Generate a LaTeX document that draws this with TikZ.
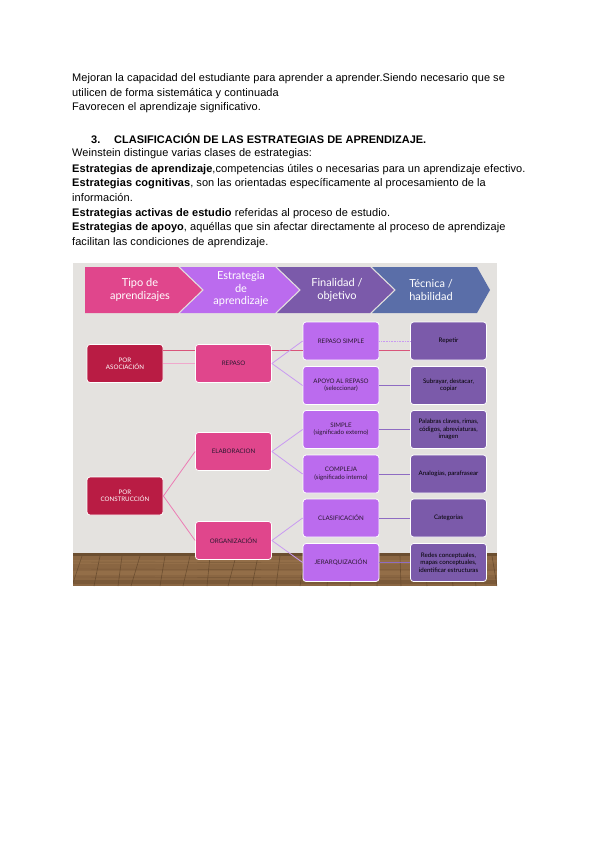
\documentclass[tikz,border=0pt]{standalone}
\usepackage{fontspec}
\setmainfont{Liberation Sans}[LetterSpace=0.6]
\newfontfamily\diafont{Lato}
\newfontfamily\headfont{Liberation Sans}
\usetikzlibrary{calc}
\definecolor{bgwall}{HTML}{E4E2DF}
\definecolor{floorc}{HTML}{8A6642}
\definecolor{floord}{HTML}{5E4328}
\definecolor{floorl}{HTML}{A47E55}
\definecolor{crimson}{HTML}{B91C44}
\definecolor{pinkc}{HTML}{E0468C}
\definecolor{lilac}{HTML}{BB6BEE}
\definecolor{violet}{HTML}{7B5AAA}
\definecolor{bluev}{HTML}{5A6EA8}
\definecolor{rosel}{HTML}{D9557A}
\definecolor{pinkl}{HTML}{F0A8CC}
\definecolor{lavl}{HTML}{C99AF2}
\definecolor{purl}{HTML}{8E6CC2}
\definecolor{pinkline}{HTML}{EC7CB4}
\definecolor{darktext}{HTML}{2A1830}
\tikzset{
  bodytext/.style={anchor=base west, inner sep=0pt, font=\fontsize{11}{12}\selectfont},
  headtext/.style={anchor=base west, inner sep=0pt, font=\headfont\bfseries\fontsize{11}{12}\selectfont},
  box/.style={draw=white, line width=0.8pt, rounded corners=3pt, minimum width=76pt, minimum height=38pt, align=center, inner sep=1pt, font=\diafont\fontsize{6.2}{7.4}\selectfont, text=darktext},
  chevtext/.style={text=white, align=center, font=\diafont\fontsize{11}{12.5}\selectfont, inner sep=0pt},
  conn/.style={line width=0.8pt},
}
\begin{document}
\begin{tikzpicture}[x=1pt,y=-1pt]
\useasboundingbox (0,0) rectangle (600,848);
\fill[white] (0,0) rectangle (600,848);
% body text
\node[bodytext] (l1) at (72,82) {Mejoran la capacidad del estudiante para aprender a aprender.Siendo necesario que se};
\node[bodytext] (l2) at (72,96.5) {utilicen de forma sistemática y continuada};
\node[bodytext] (l3) at (72,111) {Favorecen el aprendizaje significativo.};
\node[headtext] (h1) at (91,143) {3.};
\node[headtext] (h2) at (114,143) {CLASIFICACIÓN DE LAS ESTRATEGIAS DE APRENDIZAJE.};
\node[bodytext] (t1) at (72,157) {Weinstein distingue varias clases de estrategias:};
\node[bodytext] (t2) at (72,172) {\textbf{Estrategias de aprendizaje},competencias útiles o necesarias para un aprendizaje efectivo.};
\node[bodytext] (t3) at (72,186.5) {\textbf{Estrategias cognitivas}, son las orientadas específicamente al procesamiento de la};
\node[bodytext] (t4) at (72,201) {información.};
\node[bodytext] (t5) at (72,216) {\textbf{Estrategias activas de estudio} referidas al proceso de estudio.};
\node[bodytext] (t6) at (72,230.5) {\textbf{Estrategias de apoyo}, aquéllas que sin afectar directamente al proceso de aprendizaje};
\node[bodytext] (t7) at (72,245) {facilitan las condiciones de aprendizaje.};
% picture background
\fill[bgwall] (73,263) rectangle (497,586);
\begin{scope}
\clip (73,553) rectangle (497,586);
\fill[floorc] (73,553) rectangle (497,586);
\foreach \y/\c in {560/floorl,571/floorl,580/floord}{
  \fill[\c, opacity=0.35] (73,\y) rectangle (497,\y+4);
}
\foreach \a/\b in {82/72,100/94,122/118,140/131,165/160,190/183,210/207,236/228,258/252,280/276,305/300,330/327,352/350,378/377,400/401,425/427,450/453,472/476,492/497}{
  \draw[floord, line width=0.6pt, opacity=0.7] (\a,556) -- (\b,586);
}
\foreach \y in {562,569,577}{
  \draw[floord, line width=0.4pt, opacity=0.5] (73,\y) -- (497,\y+1);
}
\fill[floord!70!floorc] (73,553) rectangle (497,556);
\end{scope}
% chevrons
\fill[pinkc] (85,267) -- (178,267) -- (202,290) -- (178,313) -- (85,313) -- cycle;
\fill[lilac] (180,267) -- (275,267) -- (299,290) -- (275,313) -- (180,313) -- (204,290) -- cycle;
\fill[violet] (277,267) -- (370,267) -- (394,290) -- (370,313) -- (277,313) -- (301,290) -- cycle;
\fill[bluev] (372,267) -- (477,267) -- (490,290) -- (477,313) -- (372,313) -- (396,290) -- cycle;
\node[chevtext] (c1) at (140,290) {Tipo de\\aprendizajes};
\node[chevtext] (c2) at (241,289) {Estrategia\\de\\aprendizaje};
\node[chevtext] (c3) at (337,290) {Finalidad /\\objetivo};
\node[chevtext] (c4) at (431,290) {Técnica /\\habilidad};
% nodes
\node[box, fill=crimson, text=white] (poras) at (125,363.5) {POR\\ASOCIACIÓN};
\node[box, fill=pinkc] (repaso) at (233.5,363.5) {REPASO};
\node[box, fill=lilac] (rs) at (341,341) {REPASO SIMPLE};
\node[box, fill=violet, text=black] (rep) at (448.5,341) {Repetir};
\node[box, fill=lilac] (apoyo) at (341,385.5) {APOYO AL REPASO\\(seleccionar)};
\node[box, fill=violet, text=black] (sub) at (448.5,385.5) {Subrayar, destacar,\\copiar};
\node[box, fill=lilac] (simple) at (341,429.5) {SIMPLE\\(significado externo)};
\node[box, fill=violet, text=black] (pal) at (448.5,429.5) {Palabras claves, rimas,\\códigos, abreviaturas,\\imagen};
\node[box, fill=pinkc] (elab) at (233.5,451.5) {ELABORACION};
\node[box, fill=lilac] (comp) at (341,474) {COMPLEJA\\(significado interno)};
\node[box, fill=violet, text=black] (ana) at (448.5,474) {Analogías, parafrasear};
\node[box, fill=crimson, text=white] (porcons) at (125,496) {POR\\CONSTRUCCIÓN};
\node[box, fill=lilac] (clas) at (341,518) {CLASIFICACIÓN};
\node[box, fill=violet, text=black] (cat) at (448.5,518) {Categorías};
\node[box, fill=pinkc] (org) at (233.5,540.5) {ORGANIZACIÓN};
\node[box, fill=lilac] (jer) at (341,562.5) {JERARQUIZACIÓN};
\node[box, fill=violet, text=black] (redes) at (448.5,562.5) {Redes conceptuales,\\mapas conceptuales,\\identificar estructuras};
% connectors
\draw[conn, rosel] ([yshift=13.5pt]poras.east) -- ([yshift=13.5pt]repaso.west);
\draw[conn, pinkl] (poras.east) -- (repaso.west);
\draw[conn, rosel] ([yshift=13.5pt]repaso.east) -- ([yshift=-9pt]rs.west);
\draw[conn, lavl] (repaso.east) -- (rs.west);
\draw[conn, lavl] (repaso.east) -- (apoyo.west);
\draw[conn, lavl, dash pattern=on 1pt off 0.6pt] (rs.east) -- (rep.west);
\draw[conn, rosel] ([yshift=-9pt]rs.east) -- ([yshift=-9pt]rep.west);
\draw[conn, purl] (apoyo.east) -- (sub.west);
\draw[conn, purl] (simple.east) -- (pal.west);
\draw[conn, purl] (comp.east) -- (ana.west);
\draw[conn, purl] (clas.east) -- (cat.west);
\draw[conn, purl] (jer.east) -- (redes.west);
\draw[conn, lavl] (elab.east) -- (simple.west);
\draw[conn, lavl] (elab.east) -- (comp.west);
\draw[conn, lavl] (org.east) -- (clas.west);
\draw[conn, lavl] (org.east) -- (jer.west);
\draw[conn, pinkline] (porcons.east) -- (elab.west);
\draw[conn, pinkline] (porcons.east) -- (org.west);
\end{tikzpicture}
\end{document}
